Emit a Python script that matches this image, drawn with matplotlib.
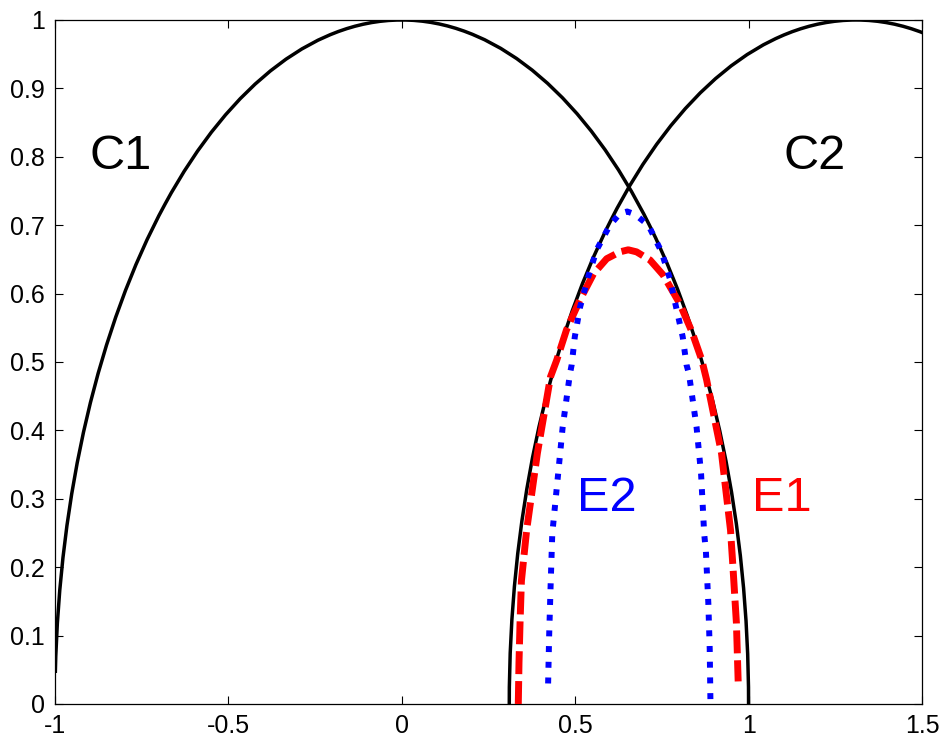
import matplotlib
matplotlib.use("Agg")
import matplotlib.pyplot as plt
from matplotlib.patches import Arc

plt.rcParams["font.family"] = ["Liberation Sans", "DejaVu Sans"]
plt.rcParams["axes.unicode_minus"] = False

# Circles C1 and C2: centre on the x axis, radius
circle_centers = [0.0, 1.31]
circle_radius = 1.0
circle_names = ["C1", "C2"]

# Estimated boundary E1 (red dashed)
e1_x = [0.336, 0.338, 0.341, 0.345, 0.360, 0.391, 0.429, 0.447, 0.475, 0.514,
        0.553, 0.591, 0.629, 0.653, 0.677, 0.716, 0.754, 0.802, 0.836, 0.865,
        0.879, 0.922, 0.948, 0.955, 0.965, 0.970]
e1_y = [0.000, 0.060, 0.118, 0.180, 0.254, 0.3665, 0.4785, 0.503, 0.547, 0.591,
        0.629, 0.651, 0.661, 0.664, 0.661, 0.649, 0.627, 0.585, 0.545, 0.503,
        0.474, 0.3665, 0.254, 0.200, 0.118, 0.033]

# Estimated boundary E2 (blue dotted)
e2_x = [0.422, 0.425, 0.429, 0.434, 0.451, 0.464, 0.485, 0.490, 0.499, 0.514,
        0.538, 0.562, 0.600, 0.629, 0.650, 0.672, 0.711, 0.749, 0.773, 0.792,
        0.810, 0.821, 0.828, 0.850, 0.863, 0.872, 0.877, 0.884, 0.888, 0.890]
e2_y = [0.030, 0.100, 0.170, 0.249, 0.337, 0.405, 0.483, 0.496, 0.537, 0.580,
        0.625, 0.664, 0.700, 0.717, 0.720, 0.716, 0.700, 0.661, 0.622, 0.578,
        0.537, 0.496, 0.483, 0.405, 0.337, 0.249, 0.223, 0.147, 0.080, 0.005]

x_ticks = [-1, -0.5, 0, 0.5, 1, 1.5]
x_tick_labels = ["-1", "-0.5", "0", "0.5", "1", "1.5"]
y_ticks = [0, 0.1, 0.2, 0.3, 0.4, 0.5, 0.6, 0.7, 0.8, 0.9, 1]
y_tick_labels = ["0", "0.1", "0.2", "0.3", "0.4", "0.5", "0.6", "0.7", "0.8", "0.9", "1"]

fig = plt.figure(figsize=(9.46, 7.43), dpi=100)
ax = fig.add_axes([0.0581, 0.0525, 0.9165, 0.9206])

# Upper halves of the two unit circles
arc_limits = [(0.0, 177.4), (0.0, 180.0)]
for c, (t1, t2) in zip(circle_centers, arc_limits):
    ax.add_patch(Arc((c, 0.0), 2 * circle_radius, 2 * circle_radius,
                     theta1=t1, theta2=t2, color="black", lw=2.5, zorder=2))

ax.plot(e1_x, e1_y, color="#ff0000", lw=5, linestyle=(0, (3.3, 1.0)),
        dash_capstyle="butt", zorder=3)
ax.plot(e2_x, e2_y, color="#0000ff", lw=4.3, linestyle=(0, (1.0, 1.63)),
        dash_capstyle="butt", zorder=4)

ax.text(-0.9, 0.80, "C1", fontsize=35, color="black", va="center", ha="left")
ax.text(1.10, 0.80, "C2", fontsize=35, color="black", va="center", ha="left")
ax.text(0.505, 0.30, "E2", fontsize=35, color="#0000ff", va="center", ha="left")
ax.text(1.01, 0.30, "E1", fontsize=35, color="#ff0000", va="center", ha="left")

ax.set_xlim(-1, 1.5)
ax.set_ylim(0, 1)
ax.set_xticks(x_ticks)
ax.set_xticklabels(x_tick_labels)
ax.set_yticks(y_ticks)
ax.set_yticklabels(y_tick_labels)
ax.tick_params(direction="in", length=5.5, width=0.8, labelsize=18,
               top=True, right=True, pad=7)
for s in ax.spines.values():
    s.set_linewidth(0.9)

fig.savefig("out.png", dpi=100)
